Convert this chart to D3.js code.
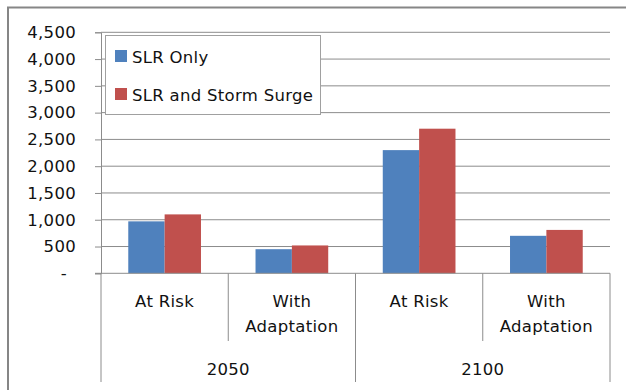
<!DOCTYPE html>
<html><head><meta charset="utf-8">
<script src="https://cdn.jsdelivr.net/npm/d3@7"></script>
<style>body{margin:0;background:#fff}svg{display:block}text{font-family:"DejaVu Sans",sans-serif;fill:#111;letter-spacing:0.3px}</style>
</head><body><svg id="c" width="626" height="390"></svg>
<script>
const groups = ["2050", "2100"];
const subcats = ["At Risk", "With Adaptation"];
const seriesNames = ["SLR Only", "SLR and Storm Surge"];
const slrOnly = [970, 450, 2300, 700];
const slrStorm = [1100, 520, 2700, 810];
const yTicks = [0, 500, 1000, 1500, 2000, 2500, 3000, 3500, 4000, 4500];
const colors = ["#4f81bd", "#c0504d"];
const FS = 16.5;

const svg = d3.select("#c");
const L = 101, R = 610, T = 32.3, B = 273.3;
const y = d3.scaleLinear().domain([0, 4500]).range([B, T]);
const cats = [];
groups.forEach(g => subcats.forEach(s => cats.push(g + "|" + s)));
const x = d3.scaleBand().domain(cats).range([L, R]);
const xi = d3.scaleBand().domain(seriesNames).range([0, x.bandwidth()]).paddingInner(0).paddingOuter(0.75);

// outer frame
svg.append("rect").attr("x", 8).attr("y", 7.5).attr("width", 700).attr("height", 500)
  .attr("fill", "none").attr("stroke", "#868686").attr("stroke-width", 2);

// gridlines
svg.append("g").selectAll("line").data(yTicks.filter(d => d > 0)).join("line")
  .attr("x1", L).attr("x2", R).attr("y1", d => y(d)).attr("y2", d => y(d))
  .attr("stroke", "#8c8c8c").attr("stroke-width", 1);

// y axis
const yAxis = d3.axisLeft(y).tickValues(yTicks).tickSize(6).tickPadding(19)
  .tickFormat(d => d === 0 ? "-" : d3.format(",")(d));
const ga = svg.append("g").attr("transform", `translate(${L},0)`).call(yAxis);
ga.select(".domain").attr("stroke", "#8c8c8c");
ga.selectAll(".tick line").attr("stroke", "#8c8c8c");
ga.selectAll(".tick text").attr("font-size", FS).attr("fill", "#111").style("font-family", "'DejaVu Sans', sans-serif");
ga.selectAll(".tick").filter(d => d === 0).select("text").attr("dx", -9);

// bars
const data = cats.map((c, i) => ({c, vals: [slrOnly[i], slrStorm[i]]}));
const bg = svg.append("g").selectAll("g").data(data).join("g")
  .attr("transform", d => `translate(${x(d.c)},0)`);
bg.selectAll("rect").data(d => d.vals.map((v, j) => ({v, s: seriesNames[j], j}))).join("rect")
  .attr("x", d => xi(d.s)).attr("width", xi.bandwidth())
  .attr("y", d => y(d.v)).attr("height", d => y(0) - y(d.v))
  .attr("fill", d => colors[d.j]);

// baseline
svg.append("line").attr("x1", L - 6).attr("x2", R).attr("y1", B).attr("y2", B)
  .attr("stroke", "#8c8c8c");

// category separators
cats.forEach((c, i) => {
  const xx = x(c);
  const isGroupEdge = i % subcats.length === 0;
  svg.append("line").attr("x1", xx).attr("x2", xx).attr("y1", B).attr("y2", isGroupEdge ? 382 : 341)
    .attr("stroke", "#8c8c8c");
});
svg.append("line").attr("x1", R).attr("x2", R).attr("y1", B).attr("y2", 382).attr("stroke", "#8c8c8c");

// subcategory labels
cats.forEach(c => {
  const s = c.split("|")[1];
  const cx = x(c) + x.bandwidth() / 2;
  const words = s === "With Adaptation" ? ["With", "Adaptation"] : [s];
  words.forEach((w, k) => {
    svg.append("text").attr("x", cx).attr("y", 306.5 + k * 25.5).attr("text-anchor", "middle")
      .attr("font-size", FS).text(w);
  });
});
// group labels
groups.forEach((g, gi) => {
  const x0 = x(g + "|" + subcats[0]);
  const x1 = x(g + "|" + subcats[subcats.length - 1]) + x.bandwidth();
  svg.append("text").attr("x", (x0 + x1) / 2).attr("y", 375).attr("text-anchor", "middle")
    .attr("font-size", FS).text(g);
});

// legend
const lg = svg.append("g");
lg.append("rect").attr("x", 105.5).attr("y", 35.5).attr("width", 215).attr("height", 79)
  .attr("fill", "#fff").attr("stroke", "#a0a0a0");
seriesNames.forEach((s, i) => {
  const yy = 56 + i * 38;
  lg.append("rect").attr("x", 115).attr("y", yy - 6).attr("width", 12).attr("height", 12).attr("fill", colors[i]);
  lg.append("text").attr("x", 132).attr("y", yy + 7).attr("font-size", FS).text(s);
});
</script></body></html>
